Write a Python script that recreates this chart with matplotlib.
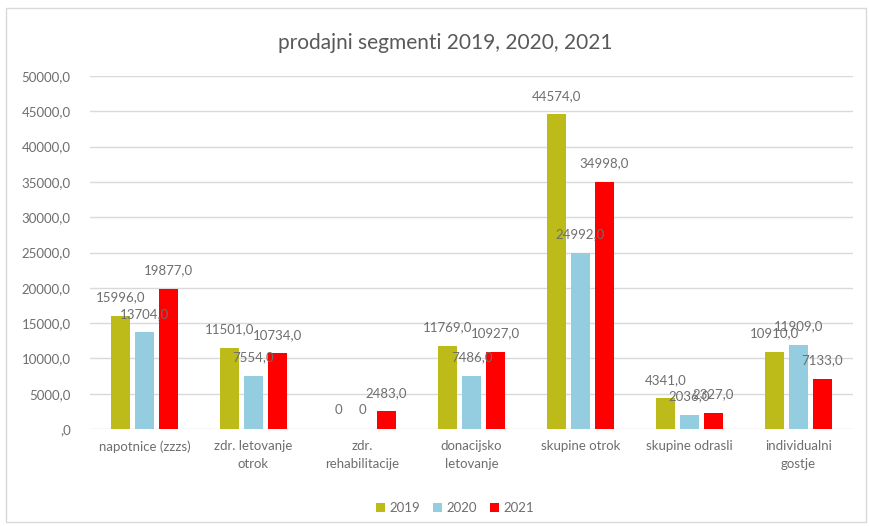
import matplotlib.pyplot as plt
import numpy as np
from matplotlib.patches import Rectangle

plt.rcParams['font.family'] = ['Lato', 'DejaVu Sans']

# prodajni segmenti po letih
kategorije = ["napotnice (zzzs)", "zdr. letovanje\notrok", "zdr.\nrehabilitacije",
              "donacijsko\nletovanje", "skupine otrok", "skupine odrasli",
              "individualni\ngostje"]
leta = ["2019", "2020", "2021"]
v2019 = [15996, 11501, 0, 11769, 44574, 4341, 10910]
v2020 = [13704, 7554, 0, 7486, 24992, 2036, 11909]
v2021 = [19877, 10734, 2483, 10927, 34998, 2327, 7133]
y_ticks = [0, 5000, 10000, 15000, 20000, 25000, 30000, 35000, 40000, 45000, 50000]

barve = ["#BDBB1A", "#93CDDF", "#FF0000"]
siva = "#6E6E6E"


def oznaka(v):
    if v == 0:
        return "0"
    return f"{v},0"


fig = plt.figure(figsize=(8.69, 5.26), dpi=100)
ax = fig.add_axes([90 / 869, 1 - 429 / 526, (853 - 90) / 869, (429 - 76) / 526])

# okvir grafikona
fig.patches.append(Rectangle((6 / 869, 4 / 526), 860 / 869, 514 / 526,
                             transform=fig.transFigure, fill=False,
                             edgecolor="#D9D9D9", linewidth=1.0))

x = np.arange(len(kategorije))
sirina = 0.175
razmik = 0.22
for i, (vrednosti, leto) in enumerate(zip([v2019, v2020, v2021], leta)):
    pos = x + (i - 1) * razmik
    ax.bar(pos, vrednosti, width=sirina, color=barve[i], label=leto, zorder=3)
    for px, v in zip(pos, vrednosti):
        ax.annotate(oznaka(v), (px, v), xytext=(0, 9), textcoords="offset points",
                    ha="center", va="bottom", fontsize=9.5, color=siva, zorder=4)

ax.set_xlim(-0.5, len(kategorije) - 0.5)
ax.set_ylim(0, 50000)
ax.set_yticks(y_ticks)
ax.set_yticklabels([",0" if t == 0 else f"{t},0" for t in y_ticks])
ax.set_xticks(x)
ax.set_xticklabels(kategorije, linespacing=1.6)
ax.tick_params(axis="both", length=0, labelsize=9.5, colors=siva)
ax.tick_params(axis="y", pad=14)
ax.tick_params(axis="x", pad=8)
ax.grid(axis="y", color="#D9D9D9", linewidth=1.0, zorder=0)
for s in ax.spines.values():
    s.set_visible(False)

fig.text(445 / 869, 1 - 43 / 526, "prodajni segmenti 2019, 2020, 2021",
         ha="center", va="center", fontsize=15, color="#595959")

fig.legend(loc="center", bbox_to_anchor=(455 / 869, 1 - 508 / 526), ncol=3,
           frameon=False, fontsize=9.5, labelcolor=siva, handlelength=0.7,
           handleheight=0.7, handletextpad=0.3, columnspacing=1.0)

fig.savefig("out.png", dpi=100, facecolor="white")
